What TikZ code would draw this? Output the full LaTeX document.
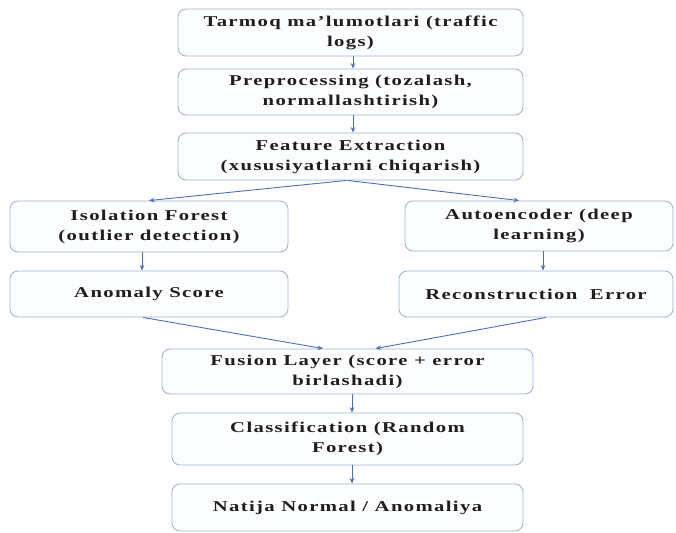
\documentclass[tikz,border=0pt]{standalone}
\usepackage{fontspec}
\usetikzlibrary{arrows.meta}
\newfontfamily\boxfont{Liberation Serif}[FakeStretch=1.38, LetterSpace=9]
\definecolor{boxline}{HTML}{A3B5D2}
\definecolor{boxfill}{HTML}{FCFDFF}
\definecolor{arrowc}{HTML}{4A6FB5}
\definecolor{txt}{HTML}{1E1E1E}
\tikzset{
  flowbox/.style={draw=boxline, fill=boxfill, line width=0.9pt, rounded corners=8pt,
    align=center, inner sep=0pt, text=txt,
    font=\boxfont\bfseries\fontsize{15}{20}\selectfont},
  flowarrow/.style={draw=arrowc, line width=0.9pt, -{Stealth[length=5.5pt,width=4.5pt]}}
}
\begin{document}
\begin{tikzpicture}[x=1pt,y=-1pt]
\useasboundingbox[fill=white] (0,0) rectangle (676,532);
\node[flowbox, minimum width=345pt, minimum height=47pt] (n1) at (350.5,32.5) {Tarmoq ma’lumotlari (traffic\\logs)};
\node[flowbox, minimum width=345pt, minimum height=46pt] (n2) at (350.5,92) {Preprocessing (tozalash,\\normallashtirish)};
\node[flowbox, minimum width=345pt, minimum height=47pt] (n3) at (350.5,156.5) {Feature Extraction\\(xususiyatlarni chiqarish)};
\node[flowbox, minimum width=278pt, minimum height=51pt] (n4) at (149,226.5) {Isolation Forest\\(outlier detection)};
\node[flowbox, minimum width=268pt, minimum height=50pt] (n5) at (539,226) {Autoencoder (deep\\learning)};
\node[flowbox, minimum width=278pt, minimum height=46pt] (n6) at (149,294) {Anomaly Score};
\node[flowbox, minimum width=274pt, minimum height=46pt] (n7) at (536,294) {Reconstruction\hspace{6pt} Error};
\node[flowbox, minimum width=371pt, minimum height=45pt] (n8) at (347.5,371.5) {Fusion Layer (score + error\\birlashadi)};
\node[flowbox, minimum width=351pt, minimum height=52pt] (n9) at (347.5,439) {Classification (Random\\Forest)};
\node[flowbox, minimum width=351pt, minimum height=47pt] (n10) at (347.5,507.5) {Natija Normal / Anomaliya};

\draw[flowarrow] ([xshift=2.5pt]n1.south) -- ([xshift=2.5pt]n2.north);
\draw[flowarrow] ([xshift=2.5pt]n2.south) -- ([xshift=2.5pt]n3.north);
\draw[flowarrow] ([xshift=-4pt]n3.south) -- (n4.north);
\draw[flowarrow] ([xshift=-3pt]n3.south) -- ([xshift=-20pt]n5.north);
\draw[flowarrow] ([xshift=-7pt]n4.south) -- ([xshift=-7pt]n6.north);
\draw[flowarrow] ([xshift=4pt]n5.south) -- ([xshift=7pt]n7.north);
\draw[flowarrow] ([xshift=-6pt]n6.south) -- ([xshift=-24.5pt]n8.north);
\draw[flowarrow] ([xshift=10pt]n7.south) -- ([xshift=28pt]n8.north);
\draw[flowarrow] ([xshift=4.5pt]n8.south) -- ([xshift=4.5pt]n9.north);
\draw[flowarrow] ([xshift=4.5pt]n9.south) -- ([xshift=4.5pt]n10.north);
\end{tikzpicture}
\end{document}
